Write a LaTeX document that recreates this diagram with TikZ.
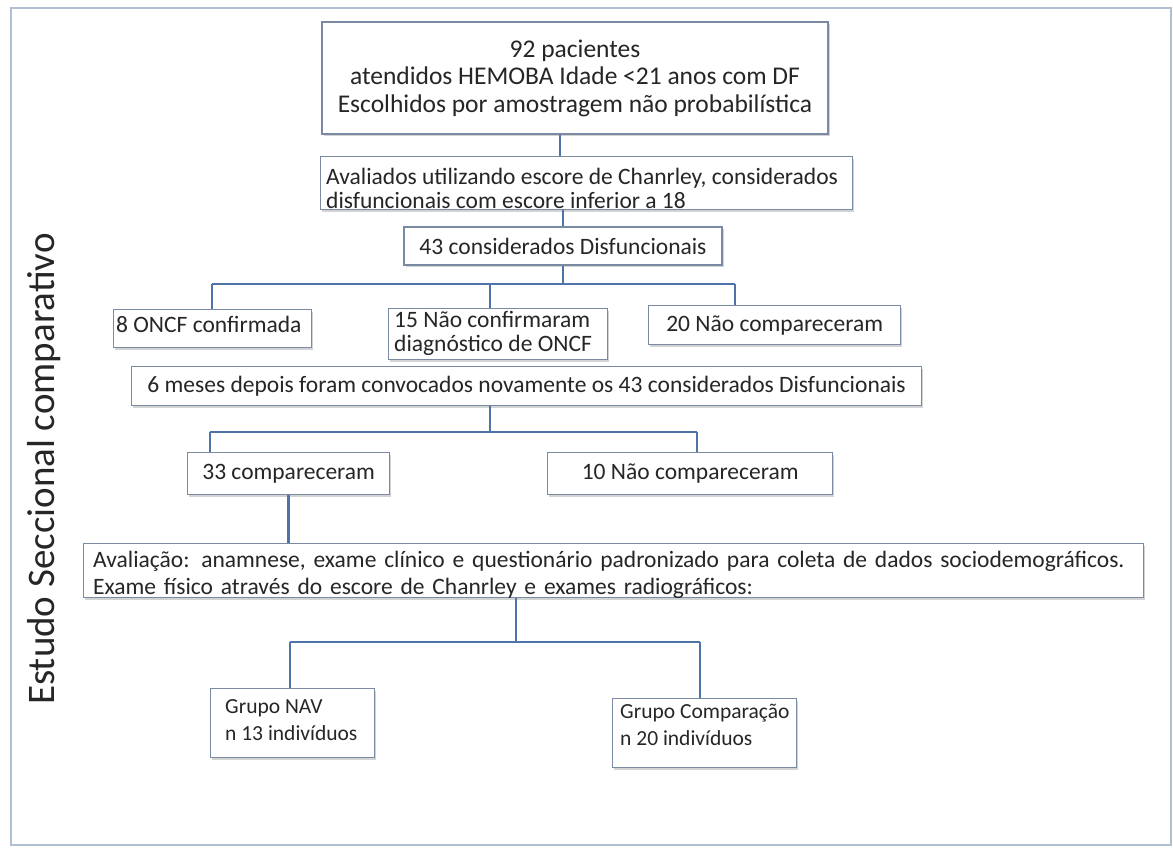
\documentclass[tikz,border=0pt]{standalone}
\usepackage{fontspec}
\setmainfont{Carlito}
\usetikzlibrary{shadows}
\definecolor{frame}{HTML}{AFC0D2}
\definecolor{boxline}{HTML}{7A8AA2}
\definecolor{conn}{HTML}{4E73A8}
\definecolor{txt}{HTML}{262626}
\tikzset{
  box/.style={draw=boxline, line width=1.3pt, fill=white, text=txt, inner sep=4pt,
    drop shadow={shadow xshift=1.5pt, shadow yshift=-2pt, opacity=0.35, fill=gray}},
  conn/.style={draw=conn, line width=2.8pt},
  plain/.style={text=txt, inner sep=0pt, anchor=north west, align=left},
  every node/.style={font=\fontsize{23.5}{27}\selectfont}
}
\begin{document}
\begin{tikzpicture}[x=1pt,y=-1pt]
\useasboundingbox (0,0) rectangle (1173,847);
\draw[frame, line width=2pt] (11,8) rectangle (1171,845);
\node[rotate=90, text=txt, font=\fontsize{39}{44}\selectfont] (title) at (44,469) {Estudo Seccional comparativo};
% boxes
\node[box, minimum width=506pt, minimum height=112pt, align=center, font=\fontsize{25.5}{27.5}\selectfont] (b1) at (575,78)
  {92 pacientes\\atendidos HEMOBA Idade <21 anos com DF\\Escolhidos por amostragem não probabilística};
\node[box, minimum width=532pt, minimum height=53pt, anchor=north west, inner sep=0pt] (b2) at (320,156) {};
\node[box, minimum width=318pt, minimum height=38pt] (b3) at (563,246) {43 considerados Disfuncionais};
\node[box, minimum width=198pt, minimum height=38pt, anchor=north west, inner sep=0pt] (b4) at (113,309) {};
\node[box, minimum width=219pt, minimum height=51pt, anchor=north west, inner sep=0pt] (b5) at (388,308) {};
\node[box, minimum width=252pt, minimum height=39pt, anchor=north west] (b6) at (648,305) {20 Não compareceram};
\node[box, minimum width=790pt, minimum height=39pt, anchor=north west] (b7) at (131,366) {6 meses depois foram convocados novamente os 43 considerados Disfuncionais};
\node[box, minimum width=202pt, minimum height=42pt, anchor=north west] (b8) at (187,452) {33 compareceram};
\node[box, minimum width=285pt, minimum height=42pt, anchor=north west] (b9) at (547,452) {10 Não compareceram};
\node[box, minimum width=1060pt, minimum height=54pt, anchor=north west, inner sep=0pt] (b10) at (83,543) {};
\node[box, minimum width=164pt, minimum height=69pt, anchor=north west, inner sep=0pt] (b11) at (210,688) {};
\node[box, minimum width=184pt, minimum height=69pt, anchor=north west, inner sep=0pt] (b12) at (612,698) {};
% texts placed inside the boxes
\node[plain] (b2t) at (326,168) [font=\fontsize{23.5}{24}\selectfont]
  {Avaliados utilizando escore de Chanrley, considerados\\disfuncionais com escore inferior a 18};
\node[plain] (b4t) at (116,316) {8 ONCF confirmada};
\node[plain] (b5t) at (394,311) [font=\fontsize{23.5}{24}\selectfont] {15 Não confirmaram\\diagnóstico de ONCF};
\node[plain, text width=1040pt] (b10t) at (93,551)
  {\makebox[\linewidth][s]{Avaliação: anamnese, exame clínico e questionário padronizado para coleta de dados sociodemográficos.}\\Exame físico através do escore de Chanrley e exames radiográficos:};
\node[plain, font=\fontsize{21.5}{27}\selectfont] (b11t) at (225,699) {Grupo NAV\\n 13 indivíduos};
\node[plain, font=\fontsize{21.5}{27}\selectfont] (b12t) at (620,704) {Grupo Comparação\\n 20 indivíduos};
% coordinates
\coordinate (h1) at (563,284);
\coordinate (h1l) at (212,284);
\coordinate (h1m) at (490,284);
\coordinate (h1r) at (735,284);
\coordinate (h2) at (490,432);
\coordinate (h2l) at (210,432);
\coordinate (h2r) at (697,432);
\coordinate (h3) at (516,642);
\coordinate (h3l) at (290,642);
\coordinate (h3r) at (700,642);
% connectors
\draw[conn] (b1.south -| 560,0) -- (b2.north -| 560,0);
\draw[conn] (b2.south -| h1) -- (b3.north -| h1);
\draw[conn] (h1) -- (b3.south -| h1);
\draw[conn] (h1l) -- (h1r);
\draw[conn] (h1l) -- (b4.north -| h1l);
\draw[conn] (h1m) -- (b5.north -| h1m);
\draw[conn] (h1r) -- (b6.north -| h1r);
\draw[conn] (h2) -- (b7.south -| h2);
\draw[conn] (h2l) -- (h2r);
\draw[conn] (h2l) -- (b8.north -| h2l);
\draw[conn] (h2r) -- (b9.north -| h2r);
\draw[conn] (b8.south) -- (b10.north -| b8.south);
\draw[conn] (h3) -- (b10.south -| h3);
\draw[conn] (h3l) -- (h3r);
\draw[conn] (h3l) -- (b11.north -| h3l);
\draw[conn] (h3r) -- (b12.north -| h3r);
\end{tikzpicture}
\end{document}
